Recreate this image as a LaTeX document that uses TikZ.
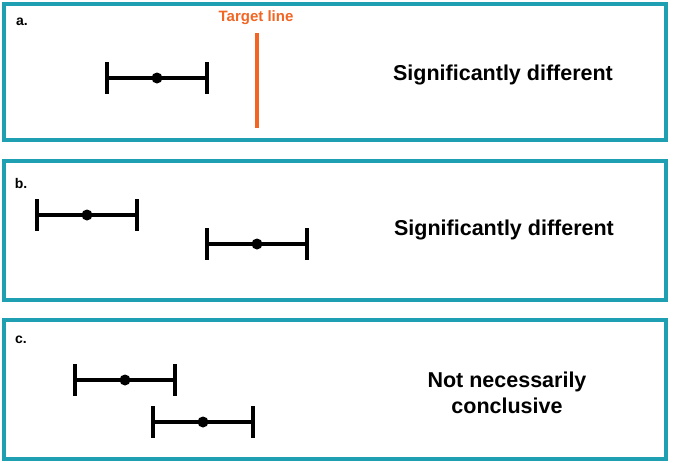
\documentclass[tikz,border=0pt]{standalone}
\usepackage{fontspec}
\setmainfont{Liberation Sans}
\definecolor{teal}{HTML}{1F9FB2}
\definecolor{org}{HTML}{F26522}
\begin{document}
\begin{tikzpicture}[x=1pt,y=-1pt,
 panel/.style={draw=teal,line width=4pt},
 bar/.style={line width=3.3pt,black},
 dot/.style={circle,fill=black,inner sep=0pt,minimum size=11pt},
 lbl/.style={font=\bfseries\fontsize{21.5}{26}\selectfont,align=center},
 tag/.style={font=\bfseries\fontsize{14}{16}\selectfont}]
\useasboundingbox (0,0) rectangle (680,463);
\newcommand{\ebar}[4]{% name, x1, x2, y
 \draw[bar] (#2,#4) -- (#3,#4);
 \draw[bar] (#2,#4-16) -- (#2,#4+16);
 \draw[bar] (#3,#4-16) -- (#3,#4+16);
 \node[dot] (#1) at ({(#2+#3)/2},#4) {};}
\draw[panel] (4,4) rectangle (666,140);
\draw[panel] (4,161) rectangle (666,300);
\draw[panel] (4,320) rectangle (666,459);
\node[tag] (ta) at (22,22) {a.};
\node[tag] (tb) at (21,183) {b.};
\node[tag] (tc) at (21,340) {c.};
\ebar{da}{107}{207}{78}
\coordinate (t1) at (257,33); \coordinate (t2) at (257,128);
\draw[org,line width=4pt] (t1) -- (t2);
\node[font=\bfseries\fontsize{15}{18}\selectfont,text=org] (tl) at (256,18) {Target line};
\node[lbl] (la) at (503,75) {Significantly different};
\ebar{db1}{37}{137}{215}
\ebar{db2}{207}{307}{244}
\node[lbl] (lb) at (504,230) {Significantly different};
\ebar{dc1}{75}{175}{380}
\ebar{dc2}{153}{253}{422}
\node[lbl] (lc) at (507,393) {Not necessarily\\conclusive};
\end{tikzpicture}
\end{document}
